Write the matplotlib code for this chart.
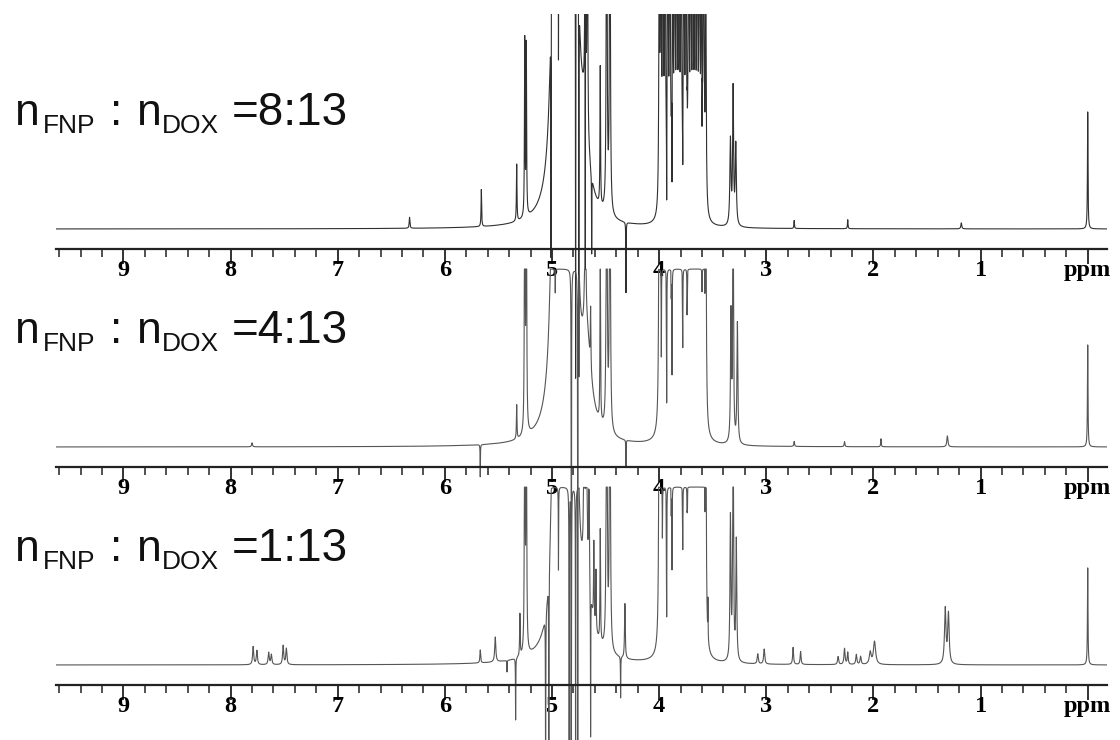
import numpy as np
import matplotlib
matplotlib.use('Agg')
import matplotlib.pyplot as plt
from matplotlib.ticker import MultipleLocator

# chemical shift window and ratio labels
ppm_left, ppm_right = 9.63, -0.18
ratios = ['8:13', '4:13', '1:13']
major_ticks = [9, 8, 7, 6, 5, 4, 3, 2, 1, 0]
tick_labels = ['9', '8', '7', '6', '5', '4', '3', '2', '1', 'ppm']

# DOX sugar/ring block 4.0-3.55 ppm (positions shared by all spectra)
block_ppm = [4.00, 3.985, 3.965, 3.945, 3.92, 3.90, 3.875, 3.855, 3.835, 3.815, 3.795,
             3.77, 3.75, 3.725, 3.705, 3.685, 3.665, 3.645, 3.625, 3.605, 3.585, 3.565]

# peaks: (ppm, height, half width) - height in display units above baseline
peaks_8_13 = [
    (6.33, 11, 0.004), (5.66, 37, 0.003), (5.33, 57, 0.003), (5.255, 176, 0.003), (5.24, 170, 0.003),
    (4.97, 900, 0.02), (4.88, 700, 0.03), (4.79, 1500, 0.015), (4.70, 70, 0.05),
    (4.69, 500, 0.003), (4.67, 400, 0.003), (4.55, 139, 0.003), (4.49, 500, 0.004), (4.46, 500, 0.004),
    (3.335, 85, 0.006), (3.31, 135, 0.005), (3.285, 80, 0.006),
    (2.74, 8, 0.003), (2.24, 9, 0.003), (1.18, 6, 0.005), (0.00, 117, 0.003),
]
block_h_8_13 = 380
dips_8_13 = [(5.01, -30), (4.94, 169), (4.78, -150), (4.75, -150), (4.69, -41), (4.63, -25),
             (4.31, -64), (3.93, 29), (3.88, 47), (3.78, 64), (3.74, 142), (3.60, 102)]

peaks_4_13 = [
    (7.80, 4, 0.005), (5.33, 34, 0.003), (5.255, 400, 0.003), (5.24, 400, 0.003),
    (4.97, 900, 0.02), (4.88, 700, 0.03), (4.79, 1500, 0.012), (4.68, 90, 0.05),
    (4.69, 400, 0.003), (4.64, 60, 0.003), (4.55, 169, 0.003), (4.49, 500, 0.004), (4.46, 500, 0.004),
    (3.33, 127, 0.005), (3.31, 300, 0.004), (3.27, 120, 0.005),
    (2.74, 5, 0.004), (2.27, 5, 0.004), (1.93, 8, 0.003), (1.31, 11, 0.006), (0.00, 102, 0.003),
]
block_h_4_13 = 500
dips_4_13 = [(5.67, -30), (4.97, 154), (4.82, -300), (4.76, -300), (4.31, -20),
             (3.98, 90), (3.93, 44), (3.88, 72), (3.78, 99), (3.74, 132), (3.60, 155)]

peaks_1_13 = [
    (7.79, 18, 0.006), (7.755, 14, 0.006), (7.645, 12, 0.006), (7.62, 10, 0.006), (7.51, 19, 0.006), (7.48, 16, 0.006),
    (5.67, 13, 0.004), (5.53, 25, 0.006), (5.30, 42, 0.003), (5.255, 400, 0.003), (5.24, 400, 0.003),
    (4.97, 600, 0.02), (4.88, 700, 0.03), (4.79, 1500, 0.012), (4.68, 70, 0.05),
    (4.70, 400, 0.003), (4.68, 400, 0.003), (4.655, 160, 0.003), (4.61, 80, 0.003), (4.59, 60, 0.003),
    (4.55, 112, 0.003), (4.49, 500, 0.004), (4.46, 500, 0.004), (4.32, 55, 0.004),
    (3.335, 142, 0.005), (3.31, 300, 0.004), (3.28, 120, 0.005),
    (3.08, 10, 0.006), (3.02, 15, 0.006), (2.75, 17, 0.005), (2.68, 13, 0.005), (2.33, 8, 0.006),
    (2.27, 16, 0.006), (2.24, 12, 0.005), (2.16, 10, 0.006), (2.12, 8, 0.006), (2.03, 12, 0.01),
    (1.99, 23, 0.012), (1.33, 55, 0.008), (1.30, 50, 0.008), (0.00, 97, 0.003),
]
block_h_1_13 = 500
dips_1_13 = [(5.42, -7), (5.34, -55), (5.06, -150), (5.03, -150), (4.94, 95), (4.84, -150), (4.82, -150),
             (4.78, -150), (4.64, -72), (4.36, -33), (3.97, 127), (3.93, 48), (3.88, 95), (3.78, 115),
             (3.74, 153), (3.545, 68)]

spectra = [
    (peaks_8_13, block_h_8_13, dips_8_13, 300),
    (peaks_4_13, block_h_4_13, dips_4_13, 178),
    (peaks_1_13, block_h_1_13, dips_1_13, 178),
]


def lorentz(x, x0, w):
    return 1.0 / (1.0 + ((x - x0) / w) ** 2)


def build_spectrum(x, peaks, block_h, dips, top):
    y = np.zeros_like(x)
    for p, h, w in peaks:
        y += h * lorentz(x, p, w)
    for j, p in enumerate(block_ppm):
        # outer lines of the block are weaker
        h = block_h * (0.6 if j in (0, len(block_ppm) - 1) else 1.0)
        y += h * lorentz(x, p, 0.0045)
    # receiver saturation -> flat tops
    y = np.minimum(y, top)
    for p, v in dips:
        y -= (y - v) * lorentz(x, p, 0.0015)
    return y


x = np.linspace(ppm_left, ppm_right, 40000)

W, H = 1120, 740
fig = plt.figure(figsize=(W / 100, H / 100), dpi=100)
fig.patch.set_facecolor('white')

baselines = [229, 447, 665]     # px from top
tops = [14, 0, 0]
colors = ['#303030', '#555555', '#555555']
left, right = 56, 1107

for i, (peaks, bh, dips, top) in enumerate(spectra):
    b = baselines[i]
    ax = fig.add_axes([left / W, 0, (right - left) / W, (H - tops[i]) / H])
    ax.patch.set_visible(False)
    y = build_spectrum(x, peaks, bh, dips, top)
    ax.plot(x, y, color=colors[i], lw=0.8)
    ax.set_xlim(ppm_left, ppm_right)
    ax.set_ylim(-(H - b), b - tops[i])

    for s in ['top', 'left', 'right']:
        ax.spines[s].set_visible(False)
    ax.spines['bottom'].set_position(('data', -20))
    ax.spines['bottom'].set_linewidth(1.6)
    ax.spines['bottom'].set_color('#222222')
    ax.set_yticks([])
    ax.set_xticks(major_ticks, tick_labels)
    ax.xaxis.set_minor_locator(MultipleLocator(0.2))
    ax.tick_params(axis='x', which='major', direction='out', length=11, width=1.3,
                   color='#222222', pad=-3, labelsize=17.5)
    ax.tick_params(axis='x', which='minor', direction='out', length=5.5, width=1.1, color='#222222')
    for lab in ax.get_xticklabels():
        lab.set_fontfamily('Liberation Serif')
        lab.set_fontweight('bold')

# ratio labels
label_base = [125, 343, 561]
for i, r in enumerate(ratios):
    yb = label_base[i]
    pieces = [('n', 15, 0, 32), ('FNP', 43, 8, 19), (':', 110, 0, 32),
              ('n', 137, 0, 32), ('DOX', 162, 8, 19), ('=' + r, 232, 0, 33)]
    for s, px, dy, size in pieces:
        fig.text(px / W, 1 - (yb + dy) / H, s, fontsize=size, family='Liberation Sans',
                 va='baseline', ha='left', color='#111111')

fig.savefig('out.png', dpi=100, facecolor='white')
